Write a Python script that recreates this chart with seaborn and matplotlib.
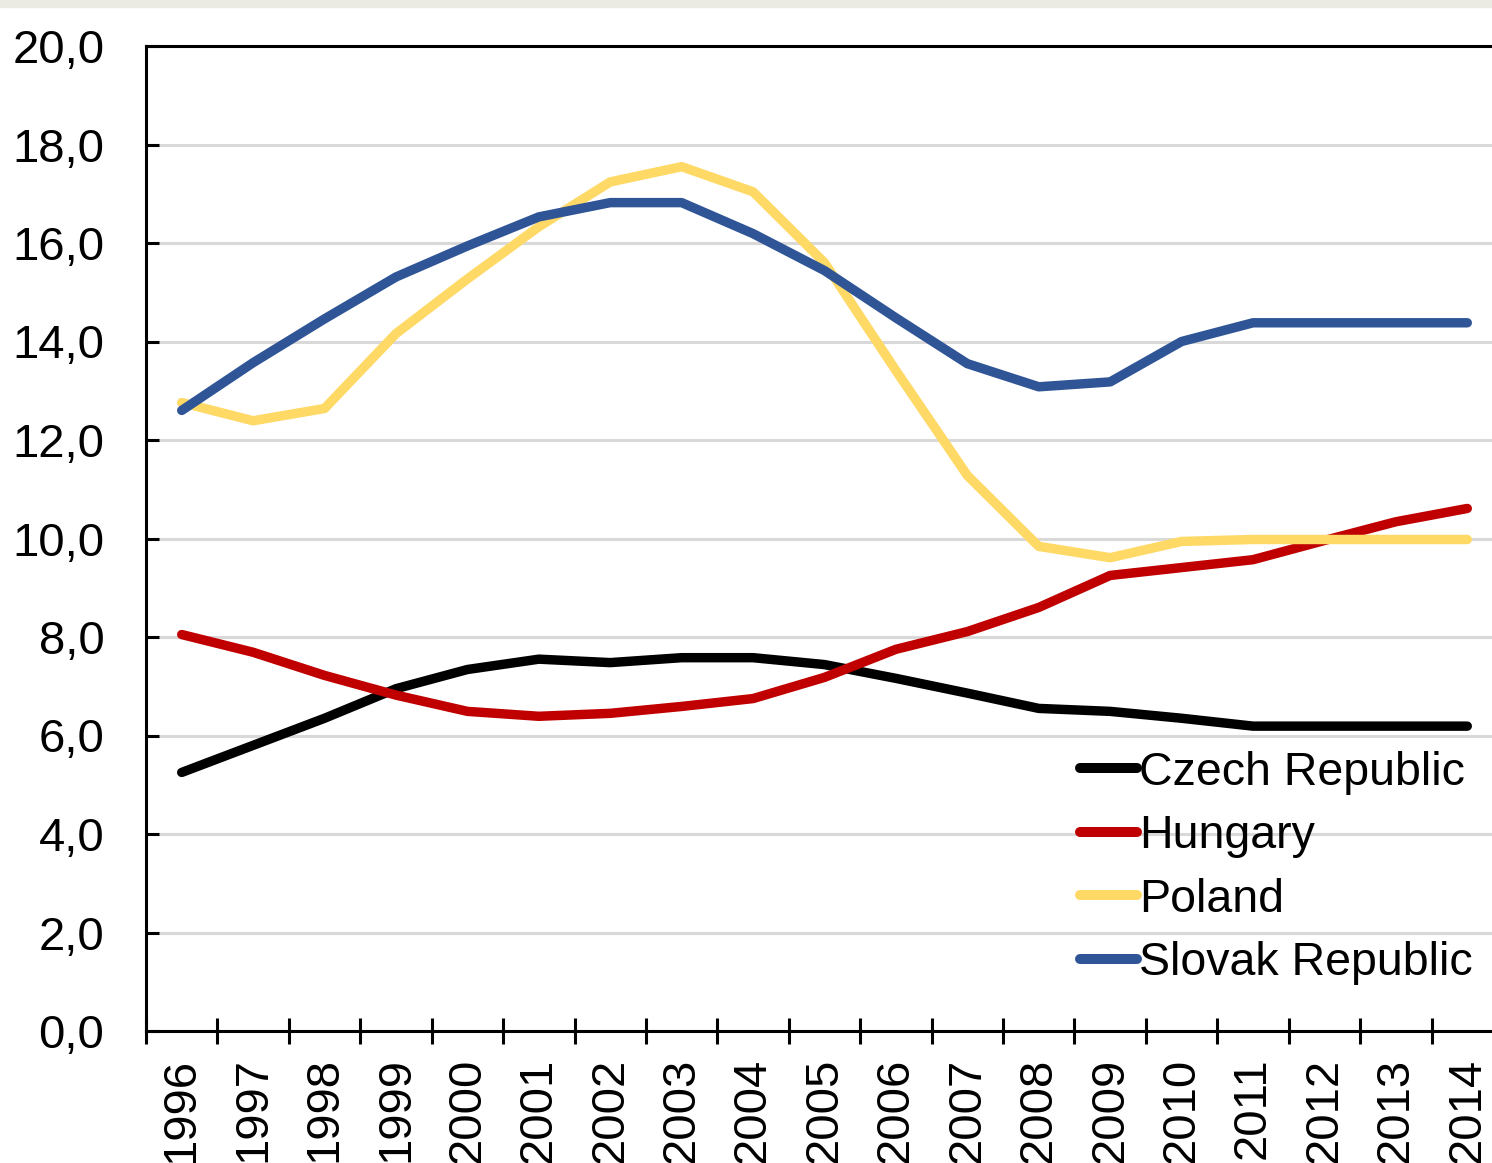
import pandas as pd
import matplotlib
matplotlib.use('Agg')
import matplotlib.pyplot as plt
from matplotlib.ticker import FuncFormatter, FixedLocator
from matplotlib.patches import Rectangle
import seaborn as sns

sns.set_style('white')
plt.rcParams['font.family'] = ['Liberation Sans', 'DejaVu Sans']
plt.rcParams['text.color'] = 'black'

years = list(range(1996, 2015))
countries = ['Czech Republic', 'Hungary', 'Poland', 'Slovak Republic']
colors = ['#000000', '#C00000', '#FFD966', '#2F5597']

czech = [5.25, 5.8, 6.35, 6.95, 7.34, 7.55, 7.48, 7.58, 7.58, 7.44, 7.16,
         6.86, 6.55, 6.49, 6.35, 6.19, 6.19, 6.19, 6.19]
hungary = [8.05, 7.69, 7.22, 6.82, 6.49, 6.39, 6.45, 6.59, 6.75, 7.18, 7.75,
           8.11, 8.6, 9.25, 9.41, 9.57, 9.96, 10.34, 10.61]
poland = [12.76, 12.39, 12.64, 14.16, 15.27, 16.33, 17.24, 17.55, 17.04, 15.6,
          13.41, 11.28, 9.84, 9.61, 9.94, 9.98, 9.98, 9.98, 9.98]
slovak = [12.6, 13.57, 14.46, 15.31, 15.94, 16.53, 16.82, 16.82, 16.19, 15.44,
          14.48, 13.55, 13.08, 13.18, 14.0, 14.38, 14.38, 14.38, 14.38]

rows = []
for name, vals in zip(countries, [czech, hungary, poland, slovak]):
    for i, v in enumerate(vals):
        rows.append({'idx': i, 'value': v, 'country': name})
df = pd.DataFrame(rows)

fig = plt.figure(figsize=(14.92, 11.63), dpi=100)
# axes slightly wider than the picture, as in the cropped original
ax = fig.add_axes([146 / 1492, 1 - 1031 / 1163, (1503 - 146) / 1492, (1031 - 46) / 1163])

sns.lineplot(data=df, x='idx', y='value', hue='country', hue_order=countries,
             palette=colors, linewidth=6.8, solid_capstyle='round',
             legend=False, ax=ax)

ax.set_xlim(-0.5, 18.5)
ax.set_ylim(0, 20)
ax.set_xlabel('')
ax.set_ylabel('')

ax.set_yticks([0, 2, 4, 6, 8, 10, 12, 14, 16, 18, 20])
ax.yaxis.set_major_formatter(FuncFormatter(lambda v, p: f'{v:.1f}'.replace('.', ',')))
ax.yaxis.grid(True, color='#d9d9d9', linewidth=2.2)
ax.set_axisbelow(True)
ax.tick_params(axis='y', direction='in', length=9, width=2.2, pad=30,
               labelsize=34, left=True, colors='black')

ax.set_xticks(range(len(years)))
ax.set_xticklabels([str(y) for y in years], rotation=90)
ax.xaxis.set_minor_locator(FixedLocator([i - 0.5 for i in range(len(years) + 1)]))
ax.tick_params(axis='x', which='major', length=0, pad=19, labelsize=34, colors='black')
ax.tick_params(axis='x', which='minor', direction='inout', length=19, width=2.2,
               bottom=True, colors='black')
for lab in ax.get_xticklabels():
    lab.set_verticalalignment('top')

for s in ['left', 'bottom', 'top', 'right']:
    ax.spines[s].set_visible(True)
    ax.spines[s].set_color('black')
    ax.spines[s].set_linewidth(2.2)

leg = fig.legend(ax.lines[:4], countries, loc='center left',
                 bbox_to_anchor=(1080 / 1492, 1 - 868 / 1163),
                 bbox_transform=fig.transFigure, frameon=False,
                 fontsize=33.5, handlelength=1.22, handletextpad=0.05,
                 labelspacing=0.42, borderpad=0, borderaxespad=0)
for h in leg.legend_handles:
    h.set_linewidth(7.2)
for t in leg.get_texts():
    t.set_color('black')

# faint band along the top edge of the original
fig.patches.append(Rectangle((0, 1 - 7 / 1163), 1, 7 / 1163, transform=fig.transFigure,
                             color='#ebebe4', zorder=0))

fig.savefig('out.png', dpi=100)
